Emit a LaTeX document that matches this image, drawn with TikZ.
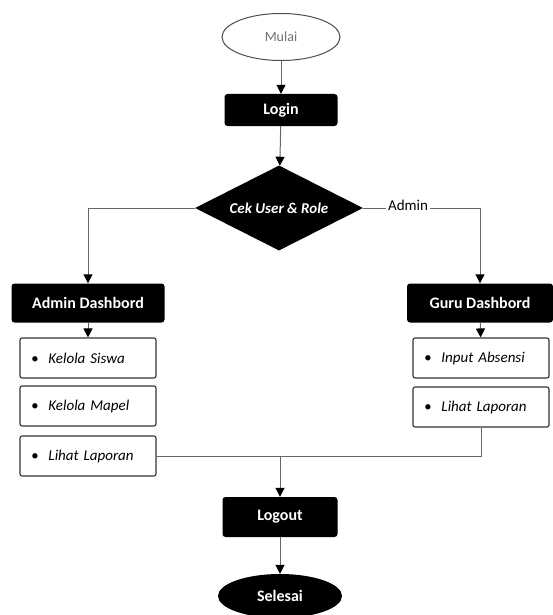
\documentclass[tikz,border=0pt]{standalone}
\usepackage{fontspec}
\setmainfont{Carlito}
\usetikzlibrary{arrows.meta,shapes.geometric}

\begin{document}
\begin{tikzpicture}[x=1pt,y=-1pt]
\tikzstyle{blackbox}=[rectangle,rounded corners=3pt,fill=black,text=white,font=\fontsize{16}{18}\selectfont\bfseries,inner sep=0pt]
\tikzstyle{itembox}=[rectangle,rounded corners=2pt,draw=black!80,line width=1.1pt,fill=white,font=\fontsize{15}{17}\selectfont\itshape,text width=114pt,align=left,minimum width=136pt,minimum height=40pt,inner sep=0pt]
\tikzstyle{flow}=[draw=black!60,line width=1pt,-{Triangle[length=9pt,width=9pt,black]}]
\tikzstyle{plain}=[draw=black!60,line width=1pt]
\useasboundingbox (0,0) rectangle (553,615);
% start and login
\node[ellipse,draw=black!70,line width=1pt,fill=white,minimum width=118pt,minimum height=47pt,text=black!55,font=\fontsize{14}{16}\selectfont] (mulai) at (281,37) {Mulai};
\node[blackbox,minimum width=113pt,minimum height=32pt] (login) at (281,110) {Login};
\node[diamond,fill=black,text=white,font=\fontsize{15}{17}\selectfont\bfseries\itshape,inner sep=0pt,shape aspect=2,minimum width=168pt,minimum height=85pt] (cek) at (279,208) {Cek User \& Role};
% dashboards
\node[blackbox,minimum width=153pt,minimum height=39pt] (admin) at (88,303) {Admin Dashbord};
\node[blackbox,minimum width=146pt,minimum height=39pt] (guru) at (480,303) {Guru Dashbord};
\node[itembox] (siswa) at (88,358) {\textbullet\ \ Kelola Siswa};
\node[itembox] (mapel) at (88,406) {\textbullet\ \ Kelola Mapel};
\node[itembox] (lapadmin) at (88,456) {\textbullet\ \ Lihat Laporan};
\node[itembox] (absensi) at (481,358) {\textbullet\ \ Input Absensi};
\node[itembox] (lapguru) at (481,407) {\textbullet\ \ Lihat Laporan};
% end
\node[blackbox,minimum width=115pt,minimum height=40pt] (logout) at (280,517) {Logout};
\node[ellipse,fill=black,text=white,font=\fontsize{16}{18}\selectfont\bfseries,minimum width=124pt,minimum height=44pt] (selesai) at (280,596) {Selesai};
\coordinate (merge) at (logout.north |- lapadmin.east);
\draw[flow] (mulai) -- (login);
\draw[flow] (login) -- (cek);
\draw[flow] (cek.west) -| (admin.north);
\draw[flow] (cek.east) -| (guru.north);
\node[fill=white,font=\fontsize{15}{17}\selectfont,inner sep=2pt] (adm) at (408,205) {Admin};
\draw[flow] (admin) -- (siswa);
\draw[flow] (guru) -- (absensi);
\draw[plain] (lapguru.south) |- (lapadmin.east);
\draw[flow] (merge) -- (logout);
\draw[flow] (logout) -- (selesai);
\end{tikzpicture}
\end{document}
